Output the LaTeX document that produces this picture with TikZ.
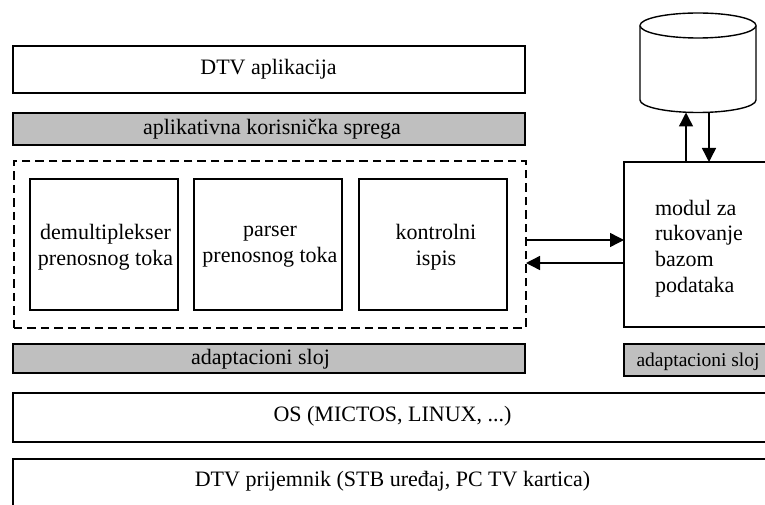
\documentclass[tikz,border=0pt]{standalone}
\usepackage{fontspec}
\setmainfont{Liberation Serif}
\usetikzlibrary{arrows.meta}
\tikzset{
  blk/.style={draw=black,line width=1.4pt,fill=white,inner sep=0pt,outer sep=0pt,anchor=north west,align=center,font=\fontsize{22}{25.5}\selectfont},
  graybar/.style={blk,fill=black!25},
  lbl/.style={inner sep=0pt,align=left,font=\fontsize{22}{25.8}\selectfont},
  conn/.style={line width=1.4pt,-{Triangle[length=14pt,width=14pt]}},
  dashbox/.style={draw=black,line width=1.6pt,dash pattern=on 8.5pt off 5pt,inner sep=0pt,anchor=north west},
  dbshape/.style={draw=black,line width=1.4pt,fill=white}
}
\begin{document}
\begin{tikzpicture}[x=1pt,y=-1pt]
\useasboundingbox (0,0) rectangle (765,505);
% top layers
\node[blk,minimum width=512pt,minimum height=47pt] (app) at (13,46) {};
\node[lbl] (appT) at (268.5,69) {DTV aplikacija};
\node[graybar,minimum width=512pt,minimum height=32pt] (api) at (13,113) {};
\node[lbl] (apiT) at (272,129) {aplikativna korisnička sprega};
% dashed container
\node[dashbox,minimum width=512pt,minimum height=167pt] (group) at (13,160) {};
\node[blk,minimum width=148pt,minimum height=131pt] (demux) at (30,179) {};
\node[lbl,align=center] (demuxT) at (105.5,247) {demultiplekser\\prenosnog toka};
\node[blk,minimum width=148pt,minimum height=131pt] (parser) at (194,179) {};
\node[lbl,align=center] (parserT) at (270,247) {parser\\prenosnog toka};
\node[blk,minimum width=148pt,minimum height=131pt] (ctrl) at (359,179) {};
\node[lbl,align=center] (ctrlT) at (436,247) {kontrolni\\ispis};
% lower layers
\node[graybar,minimum width=512pt,minimum height=29pt] (adL) at (13,344) {};
\node[lbl] (adLT) at (260.5,359) {adaptacioni sloj};
\node[blk,minimum width=770pt,minimum height=49pt] (os) at (13,393) {};
\node[lbl] (osT) at (392.5,416) {OS (MICTOS, LINUX, ...)};
\node[blk,minimum width=770pt,minimum height=60pt] (dtv) at (13,459) {};
\node[lbl] (dtvT) at (392.5,481.5) {DTV prijemnik (STB uređaj, PC TV kartica)};
% right column
\node[blk,minimum width=160pt,minimum height=165pt] (mod) at (624,162) {};
\node[lbl] (modT) at (699,248.5) {modul za\\rukovanje\\bazom\\podataka};
\node[graybar,minimum width=160pt,minimum height=32pt] (adR) at (624,344) {};
\node[lbl,font=\fontsize{19.5}{22}\selectfont] (adRT) at (698,362) {adaptacioni sloj};
% database
\draw[dbshape] (640,25.5) -- (640,100) arc[start angle=180,end angle=360,x radius=58,y radius=-12.5] -- (756,25.5) arc[start angle=0,end angle=180,x radius=58,y radius=-12.5] -- cycle;
\draw[dbshape] (640,25.5) arc[start angle=180,end angle=360,x radius=58,y radius=-12.5];
% connectors
\coordinate (modUp) at (686,162);
\coordinate (dbUp) at (686,112.5);
\coordinate (dbDown) at (709,112);
\coordinate (modDown) at (709,162);
\coordinate (grpA) at (525,240);
\coordinate (modA) at (624,240);
\coordinate (modB) at (624,263);
\coordinate (grpB) at (526,263);
\draw[conn] (modUp) -- (dbUp);
\draw[conn] (dbDown) -- (modDown);
\draw[conn] (grpA) -- (modA);
\draw[conn] (modB) -- (grpB);
\end{tikzpicture}
\end{document}
